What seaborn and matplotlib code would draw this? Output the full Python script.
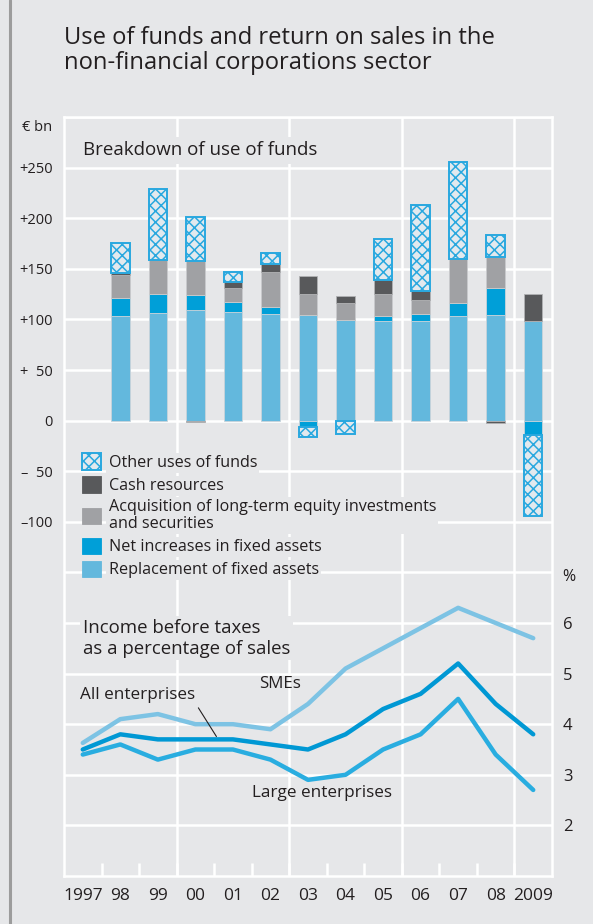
import numpy as np
import matplotlib
matplotlib.use('Agg')
import matplotlib.pyplot as plt
import matplotlib.transforms as mtransforms
from matplotlib.lines import Line2D
from matplotlib.patches import Patch
import seaborn as sns

# ---- data ----
years_bar = [1998, 1999, 2000, 2001, 2002, 2003, 2004, 2005, 2006, 2007, 2008, 2009]
replacement = [103, 106, 109, 107, 105, 104, 99, 98, 98, 103, 104, 98]
net_increase = [18, 19, 15, 10, 7, -6, 0, 5, 7, 13, 27, -14]
acquisition = [23, 34, 34, 14, 35, 21, 17, 22, 14, 44, 31, 0]
cash = [2, 0, -1.5, 6, 8, 18, 7, 14, 9, 0, -2, 27]
other_uses = [29, 70, 43, 10, 11, -10, -13, 40, 85, 96, 21, -80]

years_line = [1997, 1998, 1999, 2000, 2001, 2002, 2003, 2004, 2005, 2006, 2007, 2008, 2009]
smes = [3.63, 4.1, 4.2, 4.0, 4.0, 3.9, 4.4, 5.1, 5.5, 5.9, 6.3, 6.0, 5.7]
all_enterprises = [3.5, 3.8, 3.7, 3.7, 3.7, 3.6, 3.5, 3.8, 4.3, 4.6, 5.2, 4.4, 3.8]
large_enterprises = [3.4, 3.6, 3.3, 3.5, 3.5, 3.3, 2.9, 3.0, 3.5, 3.8, 4.5, 3.4, 2.7]

x_labels = ['1997', '98', '99', '00', '01', '02', '03', '04', '05', '06', '07', '08', '2009']
left_ticks = [250, 200, 150, 100, 50, 0, -50, -100]
left_labels = ['+250', '+200', '+150', '+100', '+  50', '0', '\u2013  50', '\u2013100']
pct_ticks = [2, 3, 4, 5, 6]

# ---- style ----
BG = '#e6e7e9'
sns.set_theme(style='white')
plt.rcParams['font.family'] = ['Open Sans', 'DejaVu Sans']
plt.rcParams['hatch.linewidth'] = 1.1
TXT = '#231f20'

fig = plt.figure(figsize=(5.93, 9.24), dpi=100, facecolor=BG)
ax = fig.add_axes([64 / 593, 1 - 876 / 924, 488 / 593, 759 / 924])
ax.set_facecolor(BG)
ax.set_xlim(1996.5, 2009.5)
ax.set_ylim(-450, 300)
ax.set_axisbelow(True)

# grid
ax.set_yticks(list(range(-400, 301, 50)))
ax.yaxis.grid(True, color='white', lw=1.8)
for xv in [1999.5, 2002.5, 2005.5, 2008.5]:
    ax.axvline(xv, color='white', lw=1.8, zorder=0.6)
for s in ax.spines.values():
    s.set_color('white')
    s.set_linewidth(1.8)

lab = {t: l for t, l in zip(left_ticks, left_labels)}
ax.set_yticklabels([lab.get(t, '') for t in range(-400, 301, 50)])
ax.tick_params(axis='y', length=0, pad=8, labelsize=10.5, labelcolor=TXT)

ax.set_xticks(years_line)
ax.set_xticklabels(x_labels)
ax.set_xticks(np.arange(1997.5, 2009, 1), minor=True)
ax.tick_params(axis='x', which='major', length=0, pad=8.5, labelsize=12.5, labelcolor=TXT)
ax.tick_params(axis='x', which='minor', direction='in', length=9.5, width=1.8, color='white', bottom=True)

# ---- stacked bars ----
series = [
    ('Replacement of fixed assets', replacement, dict(color='#63b8dd', edgecolor='#c9d3da', lw=0.6)),
    ('Net increases in fixed assets', net_increase, dict(color='#009fd8', edgecolor='#c9d3da', lw=0.6)),
    ('Acquisition of long-term equity investments\nand securities', acquisition,
     dict(color='#a0a1a4', edgecolor='#c9cacc', lw=0.6)),
    ('Cash resources', cash, dict(color='#58595b', edgecolor='#b0b1b3', lw=0.6)),
    ('Other uses of funds', other_uses, dict(facecolor='#e2e9ee', edgecolor='#29a8df', hatch='xxx', lw=1.4)),
]
pos = np.zeros(len(years_bar))
neg = np.zeros(len(years_bar))
handles = {}
for name, vals, kw in series:
    v = np.array(vals, dtype=float)
    bottom = np.where(v >= 0, pos, neg)
    ax.bar(years_bar, v, bottom=bottom, width=0.49, zorder=2, **kw)
    pos = pos + np.clip(v, 0, None)
    neg = neg + np.clip(v, None, 0)
    handles[name] = Patch(**{k: val for k, val in kw.items() if k != 'lw'}, linewidth=kw['lw'])

order = ['Other uses of funds', 'Cash resources',
         'Acquisition of long-term equity investments\nand securities',
         'Net increases in fixed assets', 'Replacement of fixed assets']
leg = ax.legend([handles[o] for o in order], order, loc='upper left',
                bbox_to_anchor=(82 / 593, 1 - 453 / 924), bbox_transform=fig.transFigure,
                frameon=False, fontsize=11.6, handlelength=1.2, handleheight=1.2,
                handletextpad=0.45, labelspacing=0.33, borderpad=0, borderaxespad=0)
for t in leg.get_texts():
    t.set_color(TXT)
    t.set_linespacing(1.1)
    t.set_bbox(dict(facecolor=BG, edgecolor='none', pad=1.5))

ax.text(1997.0, 267, 'Breakdown of use of funds', fontsize=13.5, color=TXT, va='center', ha='left',
        bbox=dict(facecolor=BG, edgecolor='none', pad=3))
trans = mtransforms.blended_transform_factory(ax.transAxes, ax.transData)
ax.text(-0.024, 290, '\u20ac bn', transform=trans, ha='right', va='center', fontsize=10.5, color=TXT)

# ---- income lines on a twin axis ----
ax2 = ax.twinx()
ax2.set_ylim(1, 16)
ax2.set_yticks(pct_ticks)
ax2.tick_params(axis='y', length=0, pad=8, labelsize=12, labelcolor=TXT)
for s in ax2.spines.values():
    s.set_visible(False)

sns.lineplot(x=years_line, y=smes, ax=ax2, color='#7dc3e4', lw=3.2)
sns.lineplot(x=years_line, y=large_enterprises, ax=ax2, color='#29ade0', lw=3.2)
sns.lineplot(x=years_line, y=all_enterprises, ax=ax2, color='#0098d4', lw=3.2)

trans2 = mtransforms.blended_transform_factory(ax2.transAxes, ax2.transData)
ax2.text(1.021, 6.9, '%', transform=trans2, ha='left', va='center', fontsize=11.5, color=TXT)
ax2.text(1997.0, 5.7, 'Income before taxes\nas a percentage of sales', fontsize=13.4, color=TXT,
         va='center', ha='left', linespacing=1.2,
         bbox=dict(facecolor=BG, edgecolor='none', pad=2))
ax2.text(2002.26, 4.79, 'SMEs', fontsize=12.2, color=TXT, ha='center', va='center')
ax2.text(1996.92, 4.58, 'All enterprises', fontsize=12.3, color=TXT, ha='left', va='center')
ax2.text(2003.37, 2.65, 'Large enterprises', fontsize=12.3, color=TXT, ha='center', va='center')
ax2.annotate('', xy=(2000.6, 3.71), xytext=(2000.04, 4.37),
             arrowprops=dict(arrowstyle='-', color=TXT, lw=0.8))

# ---- title and frame line ----
fig.text(64 / 593, 1 - 26 / 924, 'Use of funds and return on sales in the\nnon-financial corporations sector',
         fontsize=17.1, color=TXT, ha='left', va='top', linespacing=1.08)
fig.add_artist(Line2D([10 / 593, 10 / 593], [0, 1], transform=fig.transFigure, color='#9c9c9c', lw=2.2))

fig.savefig('out.png', dpi=100, facecolor=BG)
